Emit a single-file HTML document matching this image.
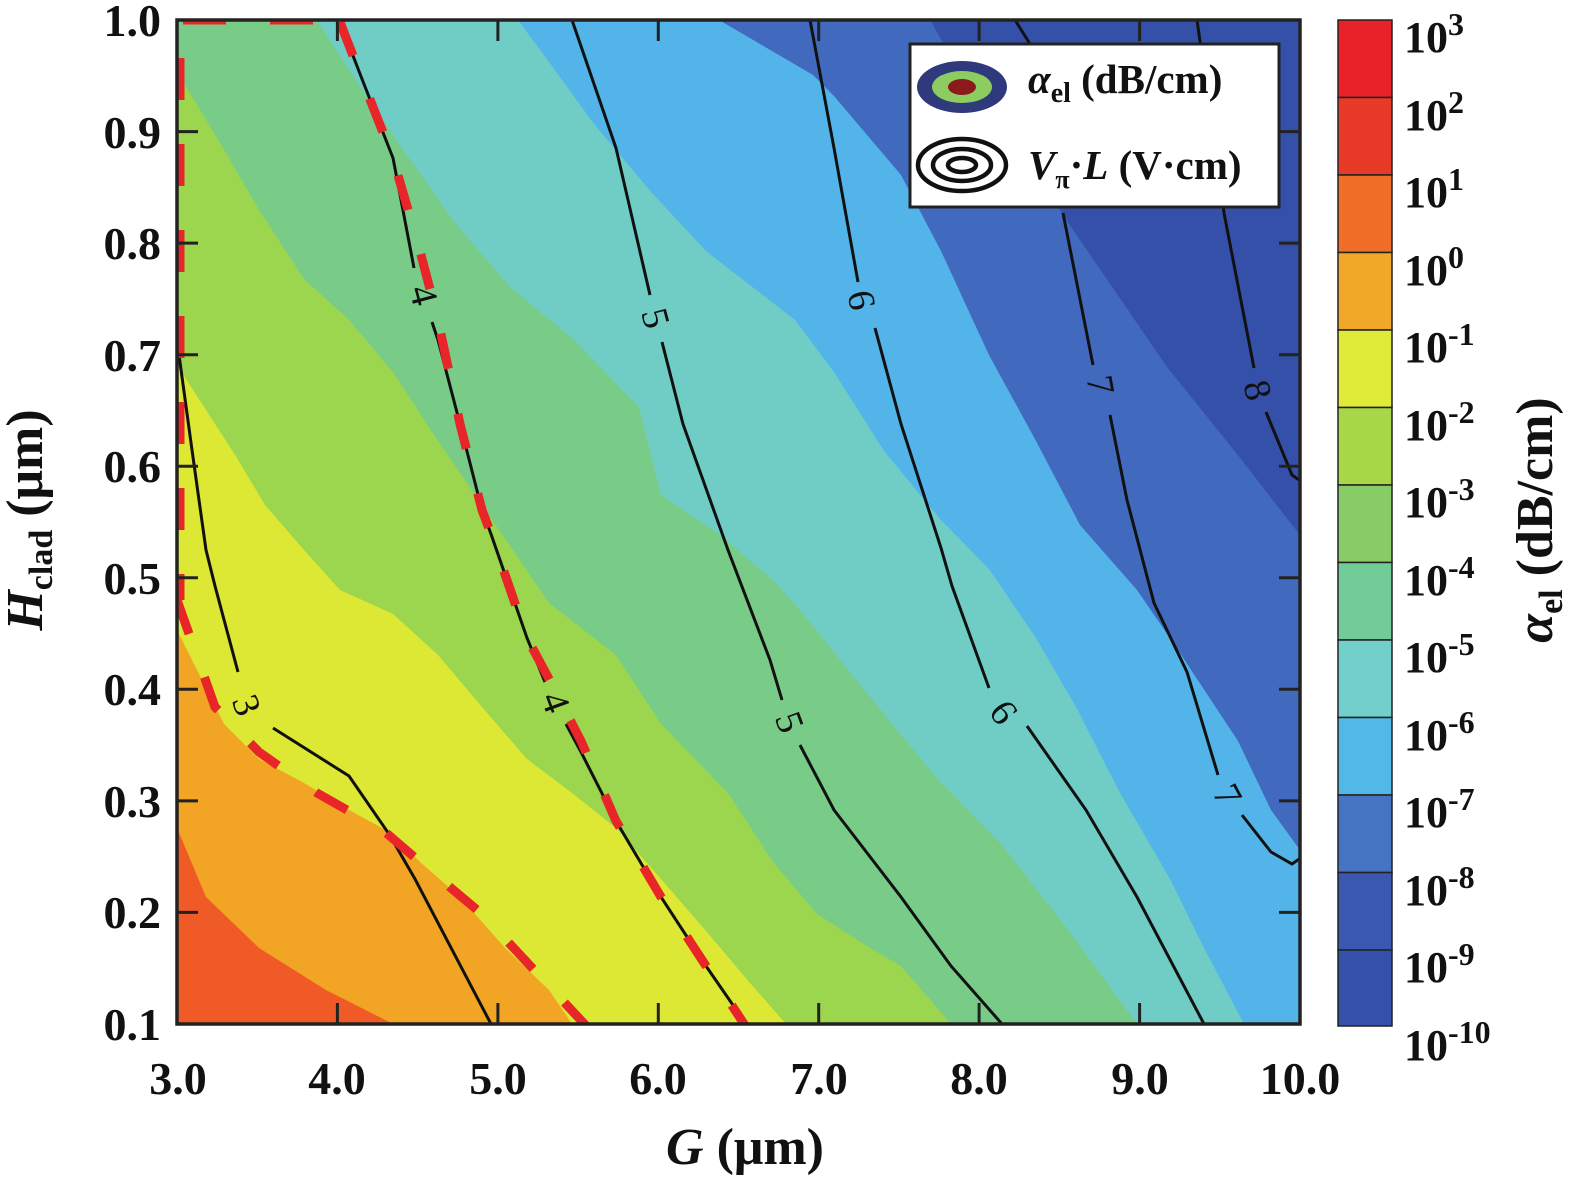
<!DOCTYPE html>
<html><head><meta charset="utf-8"><style>
html,body{margin:0;padding:0;background:#fff}
svg{display:block}
text{font-family:"Liberation Serif","DejaVu Serif",serif;font-weight:bold;fill:#111}
</style></head><body>
<svg width="1575" height="1181" viewBox="0 0 1575 1181" xmlns="http://www.w3.org/2000/svg">
<defs><clipPath id="pc"><rect x="177" y="20" width="1123" height="1004"/></clipPath></defs>
<g clip-path="url(#pc)">
<rect x="177" y="20" width="1123" height="1004" fill="#3550a8"/>
<polygon fill="#4169be" points="930,20 950,55 1010,130 1067,221 1167,367 1233,449 1300,535 1300,1024 177,1024 177,20"/>
<polygon fill="#52b4e8" points="719,20 813,75 834,96 901,175 941,251 989,355 1036,441 1080,525 1137,590 1170,638 1238,741 1271,810 1300,850 1300,1024 177,1024 177,20"/>
<polygon fill="#70cdc6" points="518,20 549,62 594,124 652,193 706,251 795,320 834,372 884,451 941,520 989,569 1036,638 1076,707 1120,793 1170,879 1204,948 1244,1024 177,1024 177,20"/>
<polygon fill="#78cc88" points="317,20 349,70 402,148 456,224 509,286 572,338 639,407 661,495 719,534 773,580 800,610 867,693 935,776 1002,845 1069,931 1137,1024 177,1024 177,20"/>
<polygon fill="#9bd64e" points="177,72 219,141 259,210 304,279 349,320 393,372 438,441 482,505 549,603 616,655 661,724 728,793 773,862 817,914 870,948 901,966 951,1024 177,1024"/>
<polygon fill="#dde834" points="177,365 237,458 265,505 304,550 340,590 393,614 438,655 482,707 527,759 572,793 616,828 661,879 706,931 750,983 786,1024 177,1024"/>
<polygon fill="#f2a424" points="177,630 224,724 259,759 304,783 349,810 393,834 420,862 460,897 505,948 549,990 572,1024 177,1024"/>
<polygon fill="#ef5a26" points="177,828 206,897 259,948 326,990 393,1024 177,1024"/>
<g fill="none" stroke="#111" stroke-width="3">
<polyline points="179,355 192,450 206,550 215,586 238,672"/>
<polyline points="273,728 349,776 389,834 415,879 491,1024"/>
<polyline points="340,22 362,79 393,158 414,268"/>
<polyline points="432,322 438,340 460,424 482,510 491,534 527,638 545,682"/>
<polyline points="566,724 581,752 616,821 661,897 706,966 746,1024"/>
<polyline points="572,20 616,148 650,295"/>
<polyline points="662,342 683,424 728,550 770,660 782,700"/>
<polyline points="800,745 834,810 901,897 951,966 1002,1024"/>
<polyline points="810,20 834,148 858,282"/>
<polyline points="875,328 901,424 941,548 952,586 989,688"/>
<polyline points="1027,726 1086,810 1137,897 1204,1024"/>
<polyline points="1015,20 1030,44"/>
<polyline points="1063,213 1093,365"/>
<polyline points="1110,415 1127,500 1154,603 1187,672 1218,775"/>
<polyline points="1242,815 1271,852 1292,864 1302,857"/>
<polyline points="1197,20 1224,213 1254,368"/>
<polyline points="1266,412 1292,475 1302,482"/>
</g>
<g fill="none" stroke="#e8262a" stroke-width="9">
<polyline stroke-dasharray="36 46" points="177,600 215,707 259,752 317,793 384,831 420,862 482,914 590,1030"/>
<polyline stroke-dasharray="36 46" points="340,22 362,79 393,158 420,251 438,320 460,424 482,510 491,534 527,638 549,679 581,741 616,821 661,897 706,966 748,1030"/>
<line x1="180" y1="58" x2="180" y2="600" stroke-dasharray="42 44"/>
<line x1="183" y1="20" x2="320" y2="20" stroke-dasharray="43 44"/>
</g>
<g font-size="38">
<text x="247" y="718" text-anchor="middle" transform="rotate(70 247 705)" style="font-weight:normal">3</text>
<text x="424" y="308" text-anchor="middle" transform="rotate(75 424 295)" style="font-weight:normal">4</text>
<text x="556" y="715" text-anchor="middle" transform="rotate(70 556 702)" style="font-weight:normal">4</text>
<text x="656" y="331" text-anchor="middle" transform="rotate(75 656 318)" style="font-weight:normal">5</text>
<text x="790" y="735" text-anchor="middle" transform="rotate(70 790 722)" style="font-weight:normal">5</text>
<text x="862" y="313" text-anchor="middle" transform="rotate(78 862 300)" style="font-weight:normal">6</text>
<text x="1004" y="725" text-anchor="middle" transform="rotate(55 1004 712)" style="font-weight:normal">6</text>
<text x="1101" y="398" text-anchor="middle" transform="rotate(80 1101 385)" style="font-weight:normal">7</text>
<text x="1228" y="808" text-anchor="middle" transform="rotate(62 1228 795)" style="font-weight:normal">7</text>
<text x="1258" y="403" text-anchor="middle" transform="rotate(75 1258 390)" style="font-weight:normal">8</text>
</g>
</g>
<g stroke="#222" stroke-width="3">
<line x1="177" y1="131.6" x2="198" y2="131.6"/><line x1="177" y1="243.1" x2="198" y2="243.1"/><line x1="177" y1="354.7" x2="198" y2="354.7"/><line x1="177" y1="466.2" x2="198" y2="466.2"/><line x1="177" y1="577.8" x2="198" y2="577.8"/><line x1="177" y1="689.3" x2="198" y2="689.3"/><line x1="177" y1="800.9" x2="198" y2="800.9"/><line x1="177" y1="912.4" x2="198" y2="912.4"/>
<line x1="1279" y1="131.6" x2="1300" y2="131.6"/><line x1="1279" y1="243.1" x2="1300" y2="243.1"/><line x1="1279" y1="354.7" x2="1300" y2="354.7"/><line x1="1279" y1="466.2" x2="1300" y2="466.2"/><line x1="1279" y1="577.8" x2="1300" y2="577.8"/><line x1="1279" y1="689.3" x2="1300" y2="689.3"/><line x1="1279" y1="800.9" x2="1300" y2="800.9"/><line x1="1279" y1="912.4" x2="1300" y2="912.4"/>
<line x1="337.4" y1="1024" x2="337.4" y2="1003"/><line x1="497.9" y1="1024" x2="497.9" y2="1003"/><line x1="658.3" y1="1024" x2="658.3" y2="1003"/><line x1="818.7" y1="1024" x2="818.7" y2="1003"/><line x1="979.1" y1="1024" x2="979.1" y2="1003"/><line x1="1139.6" y1="1024" x2="1139.6" y2="1003"/>
<line x1="337.4" y1="20" x2="337.4" y2="41"/><line x1="497.9" y1="20" x2="497.9" y2="41"/><line x1="658.3" y1="20" x2="658.3" y2="41"/><line x1="818.7" y1="20" x2="818.7" y2="41"/><line x1="979.1" y1="20" x2="979.1" y2="41"/><line x1="1139.6" y1="20" x2="1139.6" y2="41"/>
</g>
<rect x="177" y="20" width="1123" height="1004" fill="none" stroke="#222" stroke-width="3.5"/>
<rect x="910" y="44" width="369" height="163" fill="#fff" stroke="#222" stroke-width="3"/>
<ellipse cx="962" cy="87" rx="45" ry="26" fill="#2e3a7c"/>
<ellipse cx="962" cy="87" rx="30" ry="16" fill="#8ccc60"/>
<ellipse cx="962" cy="87" rx="14" ry="8" fill="#8b1a1a"/>
<g fill="none" stroke="#111" stroke-width="4.5">
<ellipse cx="962" cy="165" rx="44" ry="26"/><ellipse cx="962" cy="165" rx="29" ry="16"/><ellipse cx="962" cy="165" rx="14" ry="7"/>
</g>
<text x="1028" y="93" font-size="41"><tspan font-style="italic">α</tspan><tspan font-size="28" dy="9">el</tspan><tspan dy="-9"> (dB/cm)</tspan></text>
<text x="1028" y="179" font-size="41"><tspan font-style="italic">V</tspan><tspan font-size="26" dy="9">π</tspan><tspan dy="-9">·</tspan><tspan font-style="italic">L</tspan> (V·cm)</text>
<g font-size="46" text-anchor="end">
<text x="161" y="36">1.0</text><text x="161" y="148">0.9</text><text x="161" y="259">0.8</text><text x="161" y="371">0.7</text><text x="161" y="482">0.6</text><text x="161" y="594">0.5</text><text x="161" y="705">0.4</text><text x="161" y="817">0.3</text><text x="161" y="928">0.2</text><text x="161" y="1040">0.1</text>
</g>
<g font-size="46" text-anchor="middle">
<text x="178" y="1094">3.0</text><text x="337" y="1094">4.0</text><text x="498" y="1094">5.0</text><text x="658" y="1094">6.0</text><text x="819" y="1094">7.0</text><text x="979" y="1094">8.0</text><text x="1140" y="1094">9.0</text><text x="1300" y="1094">10.0</text>
</g>
<text x="745" y="1164" font-size="52" text-anchor="middle"><tspan font-style="italic">G</tspan> (μm)</text>
<text transform="translate(42 520) rotate(-90)" font-size="52" text-anchor="middle"><tspan font-style="italic">H</tspan><tspan font-size="34" dy="10">clad</tspan><tspan dy="-10"> (μm)</tspan></text>
<g stroke="#222" stroke-width="1.5">
<rect x="1338" y="20" width="54" height="77.5" fill="#e82228"/>
<rect x="1338" y="97.5" width="54" height="77.5" fill="#e83a28"/>
<rect x="1338" y="175" width="54" height="77.5" fill="#f06e28"/>
<rect x="1338" y="252.5" width="54" height="77.5" fill="#f0a828"/>
<rect x="1338" y="330" width="54" height="77.5" fill="#e0ea38"/>
<rect x="1338" y="407.5" width="54" height="77.5" fill="#a8d848"/>
<rect x="1338" y="485" width="54" height="77.5" fill="#88cc68"/>
<rect x="1338" y="562.5" width="54" height="77.5" fill="#72cc98"/>
<rect x="1338" y="640" width="54" height="77.5" fill="#72d0cc"/>
<rect x="1338" y="717.5" width="54" height="77.5" fill="#52b8e8"/>
<rect x="1338" y="795" width="54" height="77.5" fill="#4474c2"/>
<rect x="1338" y="872.5" width="54" height="77.5" fill="#3a58b0"/>
<rect x="1338" y="950" width="54" height="76" fill="#3450a8"/>
</g>
<g font-size="44">
<text x="1404" y="52">10<tspan font-size="32" dy="-17">3</tspan></text>
<text x="1404" y="130">10<tspan font-size="32" dy="-17">2</tspan></text>
<text x="1404" y="207">10<tspan font-size="32" dy="-17">1</tspan></text>
<text x="1404" y="285">10<tspan font-size="32" dy="-17">0</tspan></text>
<text x="1404" y="362">10<tspan font-size="32" dy="-17">-1</tspan></text>
<text x="1404" y="440">10<tspan font-size="32" dy="-17">-2</tspan></text>
<text x="1404" y="517">10<tspan font-size="32" dy="-17">-3</tspan></text>
<text x="1404" y="595">10<tspan font-size="32" dy="-17">-4</tspan></text>
<text x="1404" y="672">10<tspan font-size="32" dy="-17">-5</tspan></text>
<text x="1404" y="750">10<tspan font-size="32" dy="-17">-6</tspan></text>
<text x="1404" y="827">10<tspan font-size="32" dy="-17">-7</tspan></text>
<text x="1404" y="905">10<tspan font-size="32" dy="-17">-8</tspan></text>
<text x="1404" y="982">10<tspan font-size="32" dy="-17">-9</tspan></text>
<text x="1404" y="1060">10<tspan font-size="32" dy="-17">-10</tspan></text>
</g>
<text transform="translate(1552 520) rotate(-90)" font-size="52" text-anchor="middle"><tspan font-style="italic">α</tspan><tspan font-size="34" dy="10">el</tspan><tspan dy="-10"> (dB/cm)</tspan></text>
</svg>
</body></html>
